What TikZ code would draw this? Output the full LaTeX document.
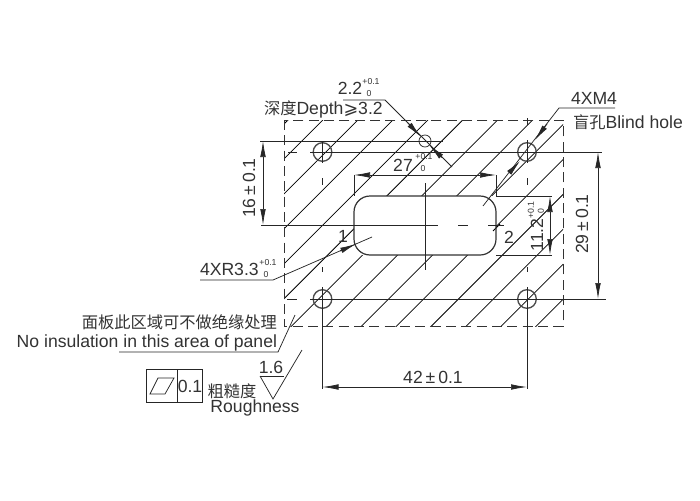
\documentclass[tikz,border=0pt]{standalone}
\usepackage{fontspec}
\setmainfont{Liberation Sans}
\newfontfamily\cjk{Noto Sans CJK SC}
\newfontfamily\symf{DejaVu Sans}
\usetikzlibrary{arrows.meta}
\tikzset{
  x=0.75pt,y=-0.75pt,
  ln/.style={draw=black!85,line width=0.55pt},
  hatchln/.style={draw=black,line width=0.55pt},
  dashln/.style={draw=black!80,line width=0.75pt,dash pattern=on 7.5pt off 4pt},
  hole/.style={draw=black!70,line width=1pt},
  dimarrow/.style={draw=black!85,line width=0.55pt,{Latex[length=12pt,width=4.2pt]}-{Latex[length=12pt,width=4.2pt]}},
  onearrow/.style={draw=black!85,line width=0.55pt,-{Latex[length=12pt,width=4.2pt]}},
  lbl/.style={inner sep=0pt,outer sep=0pt,text=black!80,font=\fontsize{13.2pt}{15pt}\selectfont},
  tol/.style={inner sep=0pt,outer sep=0pt,text=black!80,font=\fontsize{6.5pt}{8pt}\selectfont},
  cjklbl/.style={inner sep=0pt,outer sep=0pt,text=black!80,font=\cjk\fontsize{12.2pt}{14pt}\selectfont},
}
\begin{document}
\begin{tikzpicture}
\useasboundingbox (0,0) rectangle (700,500);
\fill[white] (0,0) rectangle (700,500);
% hatching clipped to the panel
\begin{scope}
  \clip (284,120) rectangle (563,326);
  \foreach \k in {0,...,13}{
    \pgfmathsetmacro{\c}{408+34.95*\k}
    \draw[hatchln] ({\c-100},100) -- ({\c-350},350);
  }
\end{scope}
% slot
\fill[white] (354,196) rectangle (496,255);
\draw[hatchln] (493,231) -- (500,224);
\draw[draw=black!80,line width=0.9pt,rounded corners=12pt] (354,196) rectangle (496,255);
% panel outline
\draw[dashln] (284,120) rectangle (563,326);
% holes
\draw[hole] (322.5,152) circle[radius=9.3];
\draw[hole] (527,152) circle[radius=9.3];
\draw[hole] (322.5,299) circle[radius=9.3];
\draw[hole] (527,299) circle[radius=9.3];
\draw[ln] (425,141) circle[radius=6];
% centre lines
\draw[ln] (288,152) -- (297,152) (310,152) -- (602,152);
\draw[ln] (287,299) -- (297,299) (310,299) -- (606,299);
\draw[ln] (322.5,142) -- (322.5,163) (322.5,178) -- (322.5,185) (322.5,267) -- (322.5,272) (322.5,287) -- (322.5,389);
\draw[ln] (527,118) -- (527,125) (527,140) -- (527,163) (527,178) -- (527,185) (527,267) -- (527,272) (527,287) -- (527,389);
\draw[ln] (425,183) -- (425,270);
\draw[ln] (261,225) -- (438,225) (458,225) -- (468,225) (488,225) -- (504,225);
% dimension 16
\draw[ln] (260,141) -- (443,141);
\draw[dimarrow] (263,141) -- (263,225);
\node[lbl,rotate=90] (d16) at (249,188) {16\,±\,0.1};
% dimension 29
\draw[dimarrow] (598,152) -- (598,299);
\node[lbl,rotate=90] (d29) at (582,224) {29\,±\,0.1};
% dimension 42
\draw[dimarrow] (322.5,387) -- (527,387);
\node[lbl] (d42) at (433,377) {42\,±\,0.1};
% dimension 27
\draw[ln] (354,175) -- (354,196) (496,175) -- (496,196);
\draw[dimarrow] (354,175) -- (496,175);
\node[lbl] (d27) at (403,165) {27};
\node[tol] (d27a) at (424,157) {+0.1};
\node[tol] (d27b) at (423,169) {0};
% dimension 11.2
\draw[ln] (496,196) -- (552,196) (496,255) -- (552,255);
\draw[dimarrow] (550,196) -- (550,255);
\node[lbl,rotate=90] (d11) at (537,235) {11.2};
\node[tol,rotate=90] (d11a) at (531,210) {+0.1};
\node[tol,rotate=90] (d11b) at (541,211) {0};
% labels 1,2
\node[lbl] (n1) at (343,236) {1};
\node[lbl] (n2) at (509,237) {2};
% depth callout
\node[lbl] (d22) at (350,88) {2.2};
\node[tol] (d22a) at (371,82) {+0.1};
\node[tol] (d22b) at (369,94) {0};
\node[lbl,anchor=west] (depth) at (264,109.5) {{\cjk\fontsize{12.2pt}{14pt}\selectfont 深度}Depth{\symf ⩾}3.2};
\draw[ln] (343,100) -- (385,100) -- (452,167);
\coordinate (dtail1) at (408,123);
\coordinate (dtip1) at (420.5,136.5);
\coordinate (dtail2) at (442,157.5);
\coordinate (dtip2) at (429.5,145.5);
\draw[onearrow] (dtail1) -- (dtip1);
\draw[onearrow] (dtail2) -- (dtip2);
% blind hole callout
\node[lbl,anchor=west] (m4) at (571,98) {4XM4};
\node[lbl,anchor=west] (blind) at (573,122) {{\cjk\fontsize{12.2pt}{14pt}\selectfont 盲孔}Blind hole};
\draw[ln] (615,108) -- (559,108) -- (483,206);
\coordinate (mtail1) at (547,124);
\coordinate (mtip1) at (535,140);
\coordinate (mtail2) at (510,172);
\coordinate (mtip2) at (520,161);
\draw[onearrow] (mtail1) -- (mtip1);
\draw[onearrow] (mtail2) -- (mtip2);
% R callout
\node[lbl,anchor=west] (r33) at (200,269) {4XR3.3};
\node[tol] (r33a) at (268,262.5) {+0.1};
\node[tol] (r33b) at (266,274.5) {0};
\draw[ln] (200,280) -- (273,280) -- (372,237);
\coordinate (rtail) at (340,251);
\coordinate (rtip) at (356,244);
\draw[onearrow] (rtail) -- (rtip);
% insulation note
\node[cjklbl,anchor=east] (noteA) at (277,322) {面板此区域可不做绝缘处理};
\node[lbl,anchor=east] (noteB) at (277,343) {No insulation in this area of panel};
\draw[ln] (119,352) -- (278,352) -- (295,315);
% flatness frame
\draw[ln] (146,369) rectangle (202,402);
\draw[ln] (177,369) -- (177,402);
\draw[ln] (150,394) -- (165,394) -- (174,378) -- (158,378) -- cycle;
\node[lbl] (flat) at (190,386) {0.1};
% roughness
\node[lbl] (r16) at (271,367) {1.6};
\draw[ln] (260,376) -- (284,376);
\draw[ln] (260,376) -- (273,399) -- (302,350);
\node[cjklbl] (cu) at (232,391) {粗糙度};
\node[lbl] (rough) at (255,408) {Roughness};
\end{tikzpicture}
\end{document}
